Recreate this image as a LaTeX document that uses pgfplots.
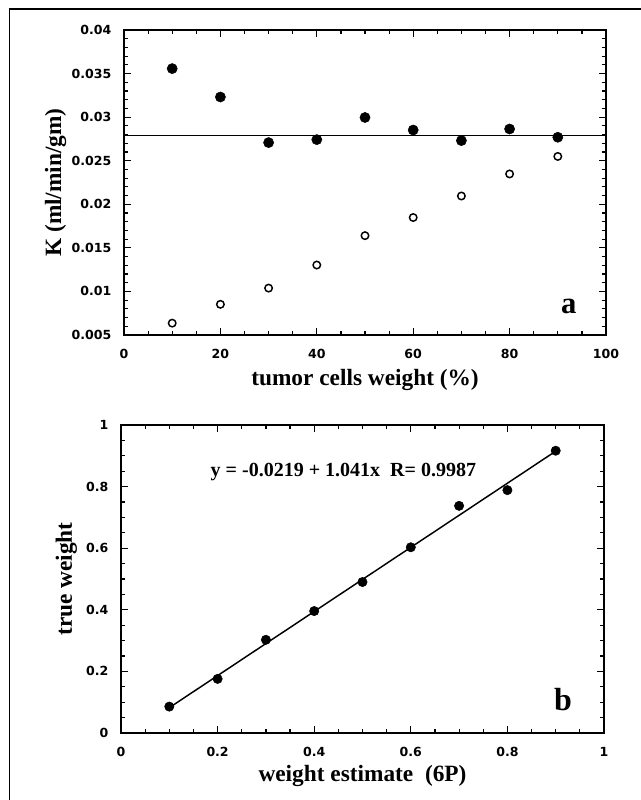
\documentclass[border=0pt]{standalone}
\usepackage{fontspec}
\setmainfont{Liberation Serif}
\newfontfamily\tickfont{DejaVu Sans}
\usepackage{pgfplots}
\pgfplotsset{compat=1.18}

\pgfplotsset{
  panel/.style={
    scale only axis,
    axis line style={line width=1.3pt},
    tick align=inside,
    xtick pos=both, ytick pos=both,
    major tick length=5pt, minor tick length=3pt,
    every tick/.style={black, line width=0.9pt},
    ticklabel style={font=\tickfont\bfseries\fontsize{9.4}{11}\selectfont},
    xticklabel style={yshift=-7pt},
    yticklabel style={xshift=-6pt},
    /pgf/number format/assume math mode=true,
    label style={font=\bfseries\fontsize{17.5}{19}\selectfont},
    clip=false,
  },
  fdot/.style={only marks, mark=*, mark size=#1, mark options={fill=black, draw=black}},
}

\begin{document}
\begin{tikzpicture}
\useasboundingbox (0,0) rectangle (480.75pt,600pt);
% frame of the figure (cut off at right and bottom)
\draw[line width=1pt] (7.3pt,0) -- (7.3pt,593.25pt) -- (480.75pt,593.25pt);

% ---- panel a ----
\begin{axis}[panel,
  at={(93pt,348.75pt)}, anchor=south west,
  width=361.5pt, height=228.75pt,
  xmin=0, xmax=100, ymin=0.005, ymax=0.04,
  xtick={0,20,...,100}, minor x tick num=3,
  ytick={0.005,0.01,0.015,0.02,0.025,0.03,0.035,0.04}, minor y tick num=4,
  scaled y ticks=false,
  yticklabel style={/pgf/number format/fixed, /pgf/number format/precision=3},
  xlabel={tumor cells weight (\%)},
  ylabel={K (ml/min/gm)},
  x label style={at={(axis description cs:0.5,-0.148)}, anchor=center},
  y label style={at={(axis description cs:-0.142,0.5)}, anchor=center},
]
\addplot[black, line width=1.1pt] coordinates {(0,0.0279) (100,0.0279)};
\addplot[fdot=3.8pt] coordinates {
  (10,0.03557) (20,0.03231) (30,0.02708) (40,0.02742) (50,0.02996)
  (60,0.02852) (70,0.02731) (80,0.02864) (90,0.02769)
};
\addplot[only marks, mark=o, mark size=2.8pt, mark options={line width=1.1pt, draw=black}] coordinates {
  (10,0.00636) (20,0.00852) (30,0.01038) (40,0.01303) (50,0.0164)
  (60,0.01848) (70,0.02095) (80,0.02348) (90,0.02549)
};
\node[font=\bfseries\fontsize{23}{25}\selectfont] at (axis cs:92.3,0.0083) {a};
\end{axis}

% ---- panel b ----
\begin{axis}[panel,
  at={(90.75pt,50.25pt)}, anchor=south west,
  width=362.25pt, height=231pt,
  xmin=0, xmax=1, ymin=0, ymax=1,
  xtick={0,0.2,...,1}, minor x tick num=3,
  ytick={0,0.2,...,1}, minor y tick num=3,
  xticklabel style={/pgf/number format/fixed},
  yticklabel style={/pgf/number format/fixed},
  xlabel={weight estimate\ \ (6P)},
  ylabel={true weight},
  x label style={at={(axis description cs:0.5,-0.14)}, anchor=center},
  y label style={at={(axis description cs:-0.113,0.5)}, anchor=center},
]
\addplot[black, line width=1.1pt] coordinates {(0.1,0.0822) (0.9,0.915)};
\addplot[fdot=3.5pt] coordinates {
  (0.1,0.0857) (0.2,0.1757) (0.3,0.3026) (0.4,0.3959) (0.5,0.4902)
  (0.6,0.6030) (0.7,0.7375) (0.8,0.7885) (0.9,0.9165)
};
\node[anchor=west, font=\bfseries\fontsize{15}{17}\selectfont] at (axis cs:0.176,0.847)
  {y = -0.0219 + 1.041x\ \ R= 0.9987};
\node[font=\bfseries\fontsize{24}{26}\selectfont] at (axis cs:0.915,0.11) {b};
\end{axis}
\end{tikzpicture}
\end{document}
